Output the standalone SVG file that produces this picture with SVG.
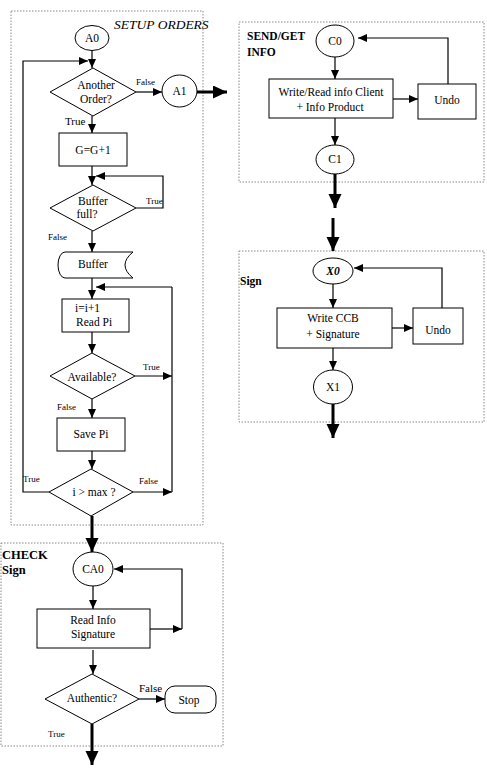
<svg xmlns="http://www.w3.org/2000/svg" width="487" height="769" viewBox="0 0 487 769">
<style>
text{font-family:"Liberation Serif","Times New Roman",serif;fill:#000;}
.t{font-size:11.5px;text-anchor:middle;}
.lb{font-size:9px;}
.b{font-weight:bold;font-size:11.5px;}
.shape{fill:#fff;stroke:#000;stroke-width:1;}
.frame{fill:none;stroke:#888;stroke-width:1;stroke-dasharray:1.5,1.5;}
.c{fill:none;stroke:#000;stroke-width:1.2;}
.ca{fill:none;stroke:#000;stroke-width:1.2;marker-end:url(#a);}
.tk{fill:none;stroke:#000;stroke-width:3;marker-end:url(#ta);}
</style>
<defs>
<marker id="a" markerUnits="userSpaceOnUse" markerWidth="10" markerHeight="9" refX="9" refY="4" orient="auto"><path d="M0,0 L9,4 L0,8 z" fill="#000"/></marker>
<marker id="ta" markerUnits="userSpaceOnUse" markerWidth="15" markerHeight="14" refX="14" refY="6.5" orient="auto"><path d="M0,0 L14,6.5 L0,13 z" fill="#000"/></marker>
</defs>
<rect width="487" height="769" fill="#fff"/>

<g id="frames">
<rect class="frame" x="11" y="11" width="192" height="514"/>
<rect class="frame" x="239" y="22" width="245" height="160"/>
<rect class="frame" x="239" y="251" width="245" height="171"/>
<rect class="frame" x="1" y="543" width="222" height="203"/>
<text x="114" y="29" style="font-size:13.5px;font-style:italic">SETUP ORDERS</text>
<text class="b" x="247" y="40">SEND/GET</text>
<text class="b" x="247" y="56">INFO</text>
<text class="b" x="240" y="285">Sign</text>
<text class="b" x="2" y="559" style="font-size:12.5px">CHECK</text>
<text class="b" x="2" y="574" style="font-size:12.5px">Sign</text>
</g>

<g id="connectors">
<line class="ca" x1="92" y1="50" x2="92" y2="68"/>
<polyline class="ca" points="49,492 23,492 23,61 88,61"/>
<line class="ca" x1="136" y1="92" x2="162" y2="92"/>
<line class="tk" x1="197" y1="92" x2="227" y2="92"/>
<line class="ca" x1="92" y1="116" x2="92" y2="133"/>
<line class="ca" x1="92" y1="166" x2="92" y2="185"/>
<polyline class="ca" points="136,208 163,208 163,176 96,176"/>
<line class="ca" x1="92" y1="231" x2="92" y2="252"/>
<line class="ca" x1="92" y1="278" x2="92" y2="299"/>
<polyline class="c" points="172,492 172,287"/>
<line class="ca" x1="172" y1="287" x2="96" y2="287"/>
<line class="ca" x1="92" y1="332" x2="92" y2="353"/>
<line class="ca" x1="135" y1="376" x2="172" y2="376"/>
<line class="ca" x1="92" y1="399" x2="92" y2="418"/>
<line class="ca" x1="92" y1="451" x2="92" y2="469"/>
<line class="ca" x1="133" y1="492" x2="172" y2="492"/>
<line class="tk" x1="92" y1="516" x2="92" y2="552"/>
<line class="ca" x1="93" y1="586" x2="93" y2="609"/>
<polyline class="ca" points="150,629 182,629"/>
<polyline class="ca" points="182,629 182,569 114,569"/>
<line class="ca" x1="93" y1="650" x2="93" y2="674"/>
<line class="ca" x1="139" y1="699" x2="165" y2="699"/>
<line class="tk" x1="92" y1="724" x2="92" y2="765"/>

<line class="ca" x1="335" y1="57" x2="335" y2="79"/>
<line class="ca" x1="393" y1="99" x2="418" y2="99"/>
<polyline class="ca" points="448,84 448,38 358,38"/>
<line class="ca" x1="335" y1="118" x2="335" y2="145"/>
<line class="tk" x1="335" y1="174" x2="335" y2="208"/>
<line class="tk" x1="333" y1="218" x2="333" y2="251"/>
<line class="ca" x1="333" y1="284" x2="333" y2="308"/>
<line class="ca" x1="390" y1="328" x2="413" y2="328"/>
<polyline class="ca" points="442,308 442,268 354,268"/>
<line class="ca" x1="333" y1="348" x2="333" y2="370"/>
<line class="tk" x1="333" y1="404" x2="333" y2="438"/>

<text class="lb" x="136" y="85">False</text>
<text class="lb" x="65" y="125" style="font-size:11px">True</text>
<text class="lb" x="146" y="204">True</text>
<text class="lb" x="48" y="240">False</text>
<text class="lb" x="143" y="370">True</text>
<text class="lb" x="57" y="410">False</text>
<text class="lb" x="23" y="482">True</text>
<text class="lb" x="139" y="484">False</text>
<text class="lb" x="139" y="692" style="font-size:11px">False</text>
<text class="lb" x="48" y="737">True</text>
</g>

<g id="A0"><ellipse class="shape" cx="92" cy="38" rx="17" ry="12.5"/><text class="t" x="92" y="42">A0</text></g>
<g id="another-order"><polygon class="shape" points="93,68 136,92 93,116 50,92"/><text class="t" x="96" y="89">Another</text><text class="t" x="96" y="103">Order?</text></g>
<g id="A1"><ellipse class="shape" cx="179.5" cy="91" rx="17.5" ry="16"/><text class="t" x="179.5" y="95">A1</text></g>
<g id="g-inc"><rect class="shape" x="59" y="133" width="68" height="33"/><text class="t" x="93" y="154">G=G+1</text></g>
<g id="buffer-full"><polygon class="shape" points="93,185 136,208 93,231 50,208"/><text class="t" x="93" y="205">Buffer</text><text class="t" x="87" y="218">full?</text></g>
<g id="buffer"><path class="shape" d="M65,252 H133 Q117,265 133,278 H65 A7,13 0 0 1 65,252 Z"/><text class="t" x="93" y="268">Buffer</text></g>
<g id="read-pi"><rect class="shape" x="62" y="299" width="67" height="33"/><text x="75" y="312" style="font-size:11.5px">i=i+1</text><text x="76" y="326" style="font-size:11.5px">Read Pi</text></g>
<g id="available"><polygon class="shape" points="92,353 135,376 92,399 50,376"/><text class="t" x="92" y="381">Available?</text></g>
<g id="save-pi"><rect class="shape" x="57" y="418" width="68" height="33"/><text class="t" x="91" y="438">Save Pi</text></g>
<g id="i-max"><polygon class="shape" points="91,469 133,492 91,516 49,492"/><text class="t" x="94" y="496">i &gt; max ?</text></g>

<g id="C0"><ellipse class="shape" cx="335" cy="41" rx="19" ry="16"/><text class="t" x="335" y="45">C0</text></g>
<g id="write-read"><rect class="shape" x="269" y="79" width="124" height="39"/><text class="t" x="331" y="96">Write/Read info Client</text><text class="t" x="330" y="111">+ Info Product</text></g>
<g id="undo1"><rect class="shape" x="418" y="84" width="58" height="35"/><text class="t" x="447" y="104">Undo</text></g>
<g id="C1"><ellipse class="shape" cx="335" cy="159.5" rx="19" ry="14.5"/><text class="t" x="335" y="163">C1</text></g>

<g id="X0"><ellipse class="shape" cx="333" cy="271" rx="20" ry="13"/><text class="t" x="333" y="275" style="font-weight:bold;font-style:italic">X0</text></g>
<g id="write-ccb"><rect class="shape" x="277" y="308" width="115" height="40"/><text class="t" x="333" y="322">Write CCB</text><text class="t" x="333" y="338">+ Signature</text></g>
<g id="undo2"><rect class="shape" x="413" y="308" width="50" height="36"/><text class="t" x="438" y="334">Undo</text></g>
<g id="X1"><ellipse class="shape" cx="333" cy="387" rx="19.5" ry="17"/><text class="t" x="333" y="391">X1</text></g>

<g id="CA0"><ellipse class="shape" cx="93" cy="569" rx="20" ry="17"/><text class="t" x="93" y="573">CA0</text></g>
<g id="read-info"><rect class="shape" x="37" y="609" width="113" height="39"/><text class="t" x="93" y="624">Read Info</text><text class="t" x="93" y="638">Signature</text></g>
<g id="authentic"><polygon class="shape" points="92,674 139,699 92,724 45,699"/><text class="t" x="92" y="702">Authentic?</text></g>
<g id="stop"><rect class="shape" x="165" y="686" width="51" height="27" rx="10"/><text class="t" x="189" y="704">Stop</text></g>
</svg>
